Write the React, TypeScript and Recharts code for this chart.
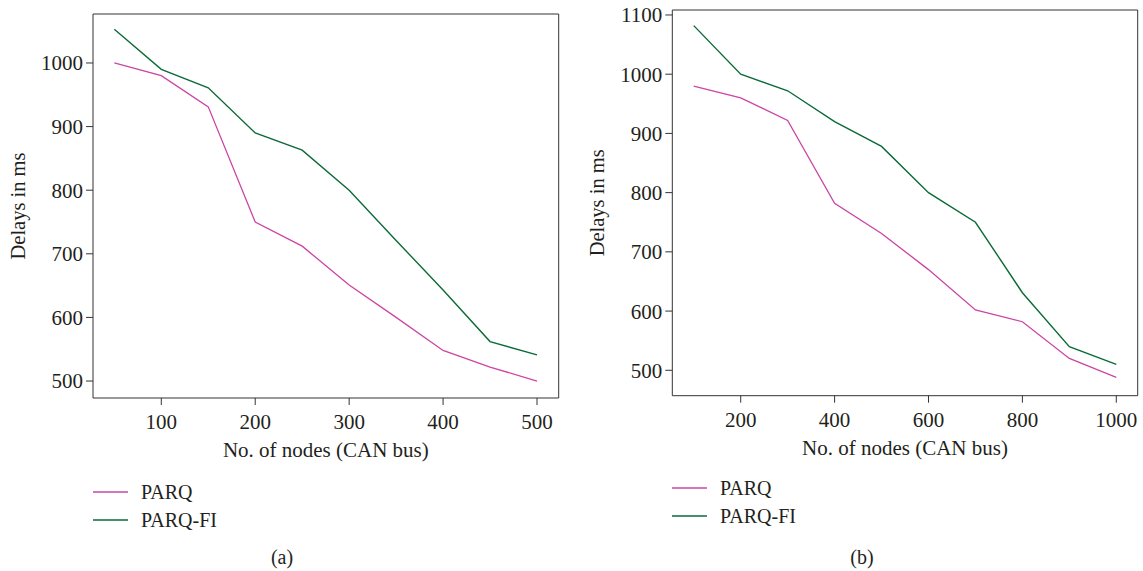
import React from 'react';
import { LineChart, Line, XAxis, YAxis } from 'recharts';

// ---- Data: panel (a) ----
const nodesA = [50, 100, 150, 200, 250, 300, 350, 400, 450, 500];
const parqA = [1000, 980, 931, 750, 712, 651, 600, 548, 522, 500];
const parqFiA = [1053, 990, 961, 890, 863, 800, 721, 643, 562, 541];
const xTicksA = [100, 200, 300, 400, 500];
const yTicksA = [500, 600, 700, 800, 900, 1000];

// ---- Data: panel (b) ----
const nodesB = [100, 200, 300, 400, 500, 600, 700, 800, 900, 1000];
const parqB = [980, 960, 922, 782, 731, 670, 602, 582, 520, 488];
const parqFiB = [1082, 1000, 972, 920, 878, 800, 750, 631, 540, 510];
const xTicksB = [200, 400, 600, 800, 1000];
const yTicksB = [500, 600, 700, 800, 900, 1000, 1100];

const seriesNames = ['PARQ', 'PARQ-FI'];
const seriesColors = ['#cc45a3', '#0b6b38'];

const FONT = '"Liberation Serif", "DejaVu Serif", serif';
const TEXT = '#231f20';
const AXIS = '#333333';

const rowsA = nodesA.map((n, i) => ({ n, parq: parqA[i], parqfi: parqFiA[i] }));
const rowsB = nodesB.map((n, i) => ({ n, parq: parqB[i], parqfi: parqFiB[i] }));

type PanelProps = {
  rows: any[];
  left: number;
  width: number;
  top: number;
  plotBottom: number;
  yAxisWidth: number;
  rightMargin: number;
  xDomain: [number, number];
  yDomain: [number, number];
  xTicks: number[];
  yTicks: number[];
};

const tickStyle = { fontFamily: FONT, fontSize: 21, fill: TEXT };

function Panel(p: PanelProps) {
  const H = 571;
  const xAxisH = 60;
  const bottomMargin = H - p.plotBottom - xAxisH;
  return (
    <div style={{ position: 'absolute', left: p.left, top: 0 }}>
      <LineChart
        width={p.width}
        height={H}
        data={p.rows}
        margin={{ top: p.top - 1, right: p.rightMargin - 1, bottom: bottomMargin, left: 0 }}
      >
        <XAxis
          dataKey="n"
          type="number"
          domain={p.xDomain}
          ticks={p.xTicks}
          allowDataOverflow
          height={xAxisH}
          tickSize={7}
          tickMargin={9}
          stroke={AXIS}
          tick={tickStyle}
          label={{
            content: (props: any) => {
              const vb = props.viewBox;
              return (
                <text
                  x={vb.x + vb.width / 2}
                  y={vb.y + 52}
                  textAnchor="middle"
                  dominantBaseline="central"
                  style={{ fontFamily: FONT, fontSize: 21, fill: TEXT }}
                >
                  No. of nodes (CAN bus)
                </text>
              );
            },
          }}
        />
        <XAxis
          xAxisId="top"
          orientation="top"
          dataKey="n"
          type="number"
          domain={p.xDomain}
          allowDataOverflow
          height={1}
          tick={false}
          tickLine={false}
          stroke={AXIS}
        />
        <YAxis
          type="number"
          domain={p.yDomain}
          ticks={p.yTicks}
          allowDataOverflow
          width={p.yAxisWidth}
          tickSize={7}
          tickMargin={3}
          stroke={AXIS}
          tick={tickStyle}
          label={{
            content: (props: any) => {
              const vb = props.viewBox;
              const cx = vb.x + 17.5;
              const cy = vb.y + vb.height / 2;
              return (
                <text
                  x={cx}
                  y={cy}
                  transform={`rotate(-90, ${cx}, ${cy})`}
                  textAnchor="middle"
                  dominantBaseline="central"
                  style={{ fontFamily: FONT, fontSize: 20.5, fill: TEXT }}
                >
                  Delays in ms
                </text>
              );
            },
          }}
        />
        <YAxis
          yAxisId="right"
          orientation="right"
          type="number"
          domain={p.yDomain}
          allowDataOverflow
          width={1}
          tick={false}
          tickLine={false}
          stroke={AXIS}
        />
        <Line
          dataKey="parq"
          name={seriesNames[0]}
          stroke={seriesColors[0]}
          strokeWidth={1.3}
          dot={false}
          isAnimationActive={false}
        />
        <Line
          dataKey="parqfi"
          name={seriesNames[1]}
          stroke={seriesColors[1]}
          strokeWidth={1.4}
          dot={false}
          isAnimationActive={false}
        />
      </LineChart>
    </div>
  );
}

function LegendBlock({ left, top }: { left: number; top: number }) {
  return (
    <div style={{ position: 'absolute', left, top }}>
      {seriesNames.map((name, i) => (
        <div
          key={name}
          style={{ display: 'flex', alignItems: 'center', height: 28, fontFamily: FONT, fontSize: 20, color: TEXT }}
        >
          <svg width={35} height={4} style={{ marginRight: 13 }}>
            <line x1={0} y1={2} x2={35} y2={2} stroke={seriesColors[i]} strokeWidth={1.5} />
          </svg>
          <span>{name}</span>
        </div>
      ))}
    </div>
  );
}

function Caption({ cx, cy, text }: { cx: number; cy: number; text: string }) {
  return (
    <div
      style={{
        position: 'absolute',
        left: cx - 30,
        width: 60,
        top: cy - 12,
        height: 24,
        lineHeight: '24px',
        textAlign: 'center',
        fontFamily: FONT,
        fontSize: 20,
        color: TEXT,
      }}
    >
      {text}
    </div>
  );
}

export default function App() {
  return (
    <div
      style={{
        position: 'absolute',
        left: 0,
        top: 0,
        width: 1143,
        height: 571,
        background: '#ffffff',
        overflow: 'hidden',
      }}
    >
      <Panel
        rows={rowsA}
        left={0}
        width={572}
        top={14}
        plotBottom={398}
        yAxisWidth={93}
        rightMargin={13.3}
        xDomain={[27.3, 523.1]}
        yDomain={[473.3, 1077]}
        xTicks={xTicksA}
        yTicks={yTicksA}
      />
      <Panel
        rows={rowsB}
        left={580}
        width={563}
        top={10}
        plotBottom={395.7}
        yAxisWidth={92.3}
        rightMargin={5.3}
        xDomain={[54.3, 1045.6]}
        yDomain={[457.1, 1108.4]}
        xTicks={xTicksB}
        yTicks={yTicksB}
      />
      <LegendBlock left={93} top={478} />
      <LegendBlock left={672} top={474} />
      <Caption cx={282} cy={557} text="(a)" />
      <Caption cx={862} cy={557} text="(b)" />
    </div>
  );
}
